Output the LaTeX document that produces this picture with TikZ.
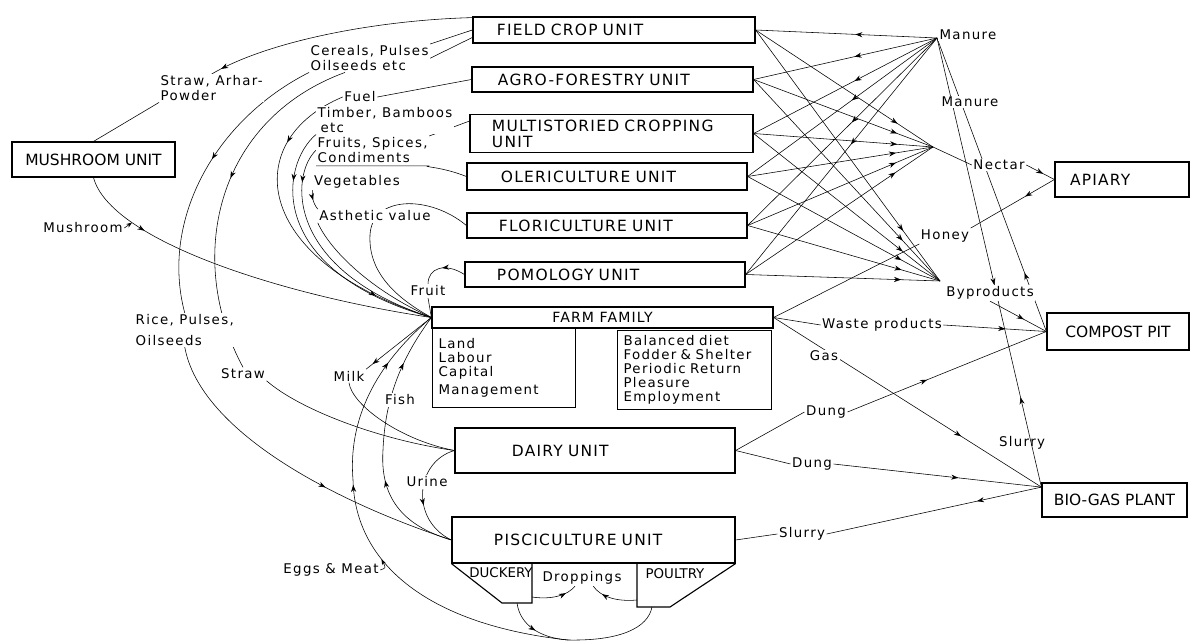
\documentclass[tikz,border=0pt]{standalone}
\usepackage{fontspec}
\setmainfont{DejaVu Sans}
\newfontfamily\unitfont[LetterSpace=8]{DejaVu Sans}
\newfontfamily\lblfont[LetterSpace=10]{DejaVu Sans}
\usetikzlibrary{arrows.meta,decorations.markings,backgrounds}

\tikzset{
  unitbox/.style={draw, line width=0.8pt, fill=white},
  unit/.style={unitbox, align=left, font=\unitfont\fontsize{11}{11.5}\selectfont},
  plainbox/.style={unitbox, font=\fontsize{11}{11.5}\selectfont},
  subbox/.style={unitbox, anchor=north west, align=left, inner xsep=0.15cm, font=\lblfont\fontsize{9.5}{10}\selectfont},
  lbl/.style={inner sep=1pt, align=left, fill=white, font=\lblfont\fontsize{9.5}{10.5}\selectfont},
  shedtag/.style={inner sep=1pt, font=\fontsize{9.5}{10}\selectfont},
  linkline/.style={line width=0.7pt},
  flow/.style={postaction={decorate, decoration={markings, mark=at position #1 with {\arrow{Stealth[length=5pt,width=3.6pt]}}}}},
  flow/.default=0.5,
  rflow/.style={postaction={decorate, decoration={markings, mark=at position #1 with {\arrowreversed{Stealth[length=5pt,width=3.6pt]}}}}},
  rflow/.default=0.5
}

\begin{document}
\begin{tikzpicture}[x=0.025cm, y=-0.025cm]
\useasboundingbox (0,0) rectangle (1190,642);

% production units
\node[unit, minimum height=0.65cm, inner xsep=0.6cm, text width=5.85cm] (fc) at (614,30) {FIELD CROP UNIT};
\node[unit, minimum height=0.625cm, inner xsep=0.65cm, text width=5.725cm] (af) at (612.5,79.5) {AGRO-FORESTRY UNIT};
\node[unit, minimum height=0.925cm, inner xsep=0.55cm, text width=5.975cm] (ms) at (611.5,133.5) {MULTISTORIED CROPPING\\UNIT};
\node[unit, minimum height=0.675cm, inner xsep=0.85cm, text width=5.3cm] (ol) at (607,176.5) {OLERICULTURE UNIT};
\node[unit, minimum height=0.625cm, inner xsep=0.8cm, text width=5.4cm] (fl) at (607,225.5) {FLORICULTURE UNIT};
\node[unit, minimum height=0.625cm, inner xsep=0.8cm, text width=5.4cm] (po) at (605,274.5) {POMOLOGY UNIT};
\node[unit, minimum height=1.125cm, inner xsep=1.425cm, text width=4.15cm] (da) at (595,450.5) {DAIRY UNIT};
\node[unit, minimum height=1.15cm, inner xsep=1.05cm, text width=4.975cm] (pi) at (593.5,540) {PISCICULTURE UNIT};
\node[unit, minimum height=0.875cm, inner xsep=0.375cm, text width=2.6cm] (ap) at (1122,179.5) {APIARY};
\node[plainbox, minimum width=4.075cm, minimum height=0.875cm] (mu) at (93.5,159.5) {MUSHROOM UNIT};
\node[plainbox, minimum width=3.55cm, minimum height=0.925cm] (cp) at (1118,331.5) {COMPOST PIT};
\node[plainbox, minimum width=3.625cm, minimum height=0.85cm] (bg) at (1114.5,500) {BIO-GAS PLANT};

% farm family
\node[unitbox, font=\unitfont\fontsize{10}{10}\selectfont, minimum width=8.525cm, minimum height=0.525cm, inner ysep=1pt] (ff) at (602.5,317.5) {FARM FAMILY};
\node[subbox, text width=3.275cm, minimum height=1.975cm] (ffl) at (432,328) {Land\\Labour\\Capital\\[3pt]Management};
\node[subbox, text width=3.55cm, minimum height=1.95cm] (ffr) at (617,330) {Balanced diet\\Fodder \& Shelter\\Periodic Return\\Pleasure\\Employment};

% duckery and poultry sheds
\draw[line width=0.8pt] (pi.south west) -- (502,603) -- (532,603) -- (532,563);
\draw[line width=0.8pt] (637,563) -- (637,607) -- (670,607) -- (pi.south east);
\coordinate (dkm) at (517,603);
\coordinate (dkd) at (532,597);
\coordinate (plm) at (652,607);
\coordinate (pld) at (637,600);
\node[shedtag] (dk) at (501,573) {DUCKERY};
\node[shedtag] (pl) at (675,574) {POULTRY};

% hubs
\coordinate (hm) at (937,38);
\coordinate (hn) at (933,147);
\coordinate (hb) at (940,281);
\coordinate (lb) at (568,640);

% labels
\node[lbl, anchor=north west] (sa) at (159,74) {Straw, Arhar-\\Powder};
\node[lbl, anchor=north west] (ce) at (309,44) {Cereals, Pulses\\Oilseeds etc};
\node[lbl] (fu) at (360,97) {Fuel};
\node[lbl, anchor=north west] (tb) at (316,106) {Timber, Bamboos\\\hspace{2pt}etc};
\node[lbl, anchor=north west] (fr) at (316,136) {Fruits, Spices,\\Condiments};
\node[lbl] (ve) at (357,182) {Vegetables};
\node[lbl] (as) at (375,216) {Asthetic value};
\node[lbl] (fru) at (428,291) {Fruit};
\node[lbl] (ml) at (83,228) {Mushroom};
\node[lbl, anchor=north west] (ri) at (134,313) {Rice, Pulses,\\[4pt]Oilseeds};
\node[lbl] (sl) at (243,374) {Straw};
\node[lbl] (mi) at (349,376) {Milk};
\node[lbl] (fi) at (400,400) {Fish};
\node[lbl] (ur) at (427,482) {Urine};
\node[lbl] (eg) at (331,570) {Eggs \& Meat};
\node[lbl] (dr) at (582,578) {Droppings};
\node[lbl] (m1) at (968,35) {Manure};
\node[lbl] (m2) at (970,102) {Manure};
\node[lbl] (ne) at (999,165) {Nectar};
\node[lbl] (ho) at (945,236) {Honey};
\node[lbl] (by) at (990,293) {Byproducts};
\node[lbl] (wa) at (882,325) {Waste products};
\node[lbl] (ga) at (824,356) {Gas};
\node[lbl] (d1) at (826,412) {Dung};
\node[lbl] (d2) at (812,464) {Dung};
\node[lbl, fill=none] (s1) at (1022,443) {Slurry};
\node[lbl] (s2) at (802,534) {Slurry};

\begin{scope}[on background layer, linkline]
% left side
\draw[flow=0.96] (fc.175) .. controls (380,20) and (270,40) .. (sa.north);
\draw (mu.north) -- (sa.south west);
\draw[flow=0.2] (mu.south) .. controls (110,240) and (280,295) .. (ff.west) node[pos=0.25, coordinate] (mp) {};
\draw[-{Stealth[length=4pt]}] (ml.east) -- (mp);
\draw (fc.west) -- (ce.north east);
\draw (fc.183) -- (ce.east);
\draw[flow=0.45] (ce.south west) .. controls (215,120) and (160,220) .. (ri.north);
\draw[flow=0.6] (ri.south) .. controls (200,430) and (330,500) .. (pi.west);
\draw[flow=0.45] (ce.210) .. controls (215,120) and (185,260) .. (sl.north);
\draw (sl.south east) .. controls (300,410) and (380,440) .. (da.west);
% fan into the farm family
\draw (af.west) -- (fu.east);
\draw[flow=0.22, flow=0.82] (fu.west) .. controls (240,140) and (250,260) .. (ff.west);
\draw[flow=0.2] (tb.south west) .. controls (280,165) and (265,270) .. (ff.west);
\draw (ms.175) -- (fr.north east);
\draw[flow=0.15] (fr.west) .. controls (290,175) and (285,270) .. (ff.west);
\draw (ol.west) .. controls (440,166) and (420,167) .. ([yshift=-1pt]fr.south east) -- ([yshift=-1pt]fr.south west);
\draw[flow=0.5] (ve.south west) .. controls (312,195) and (312,202) .. (as.north west);
\draw (as.south west) .. controls (330,250) and (370,290) .. (ff.west);
\draw[flow=0.45] (fl.west) .. controls (430,195) and (372,195) .. (370,235) .. controls (368,275) and (400,300) .. (ff.west);
\draw[flow=0.5] (po.west) .. controls (445,262) and (428,268) .. (fru.north);
\draw (fru.south) -- (ff.west);
% livestock and fish
\draw[flow=0.9] (ff.west) -- (mi.north east);
\draw (mi.south) .. controls (352,405) and (400,440) .. (da.west);
\draw[flow=0.6, flow=0.87] (lb) .. controls (430,625) and (355,565) .. (353,480) node[pos=0.65, coordinate] (em) {} .. controls (348,420) and (375,365) .. (ff.west);
\draw[-{Stealth[length=4pt]}] (eg.east) .. controls (386,568) .. (em);
\draw[flow=0.35, flow=0.8] (pi.west) .. controls (400,525) and (380,495) .. (383,450) .. controls (385,400) and (400,360) .. (ff.west);
\draw[flow=0.6] (da.west) .. controls (415,462) and (410,520) .. (pi.west);
\draw[flow=0.5] (dkm) .. controls (520,625) and (540,638) .. (lb);
\draw (plm) .. controls (648,628) and (620,641) .. (lb);
\draw[flow=0.75] (dkd) .. controls (552,600) and (568,595) .. ([xshift=-5pt]dr.south);
\draw[flow=0.75] (pld) .. controls (615,602) and (600,596) .. ([xshift=8pt]dr.south);
% right side
\foreach \u in {fc,af,ms,ol,fl,po}{
  \draw[flow=0.45] (hm) -- (\u.east);
  \draw[flow=0.8] (\u.east) -- (hn);
  \draw[flow=0.8] (\u.east) -- (hb);
}
\draw (hn) -- (ne.west);
\draw[flow=0.6] (ne.east) -- (ap.west);
\draw[flow=0.35] (ap.west) -- (ho.north east);
\draw (ho.south west) -- (ff.east);
\draw[flow=0.55, rflow=0.8] (hm) -- (bg.170);
\draw[rflow=0.8] (hm) -- (cp.west);
\draw[flow=0.6] (by.south) -- (cp.west);
\draw (ff.east) -- (wa.west);
\draw[flow=0.6] (wa.east) -- (cp.west);
\draw[flow=0.7] (ff.east) -- (bg.170);
\draw (da.east) -- (d1.west);
\draw[flow=0.4] (d1.east) -- (cp.west);
\draw (da.east) -- (d2.west);
\draw[flow=0.6] (d2.east) -- (bg.170);
\draw[flow=0.3] (bg.170) -- (s2.east);
\draw (s2.west) -- (pi.east);
\end{scope}
\end{tikzpicture}
\end{document}
